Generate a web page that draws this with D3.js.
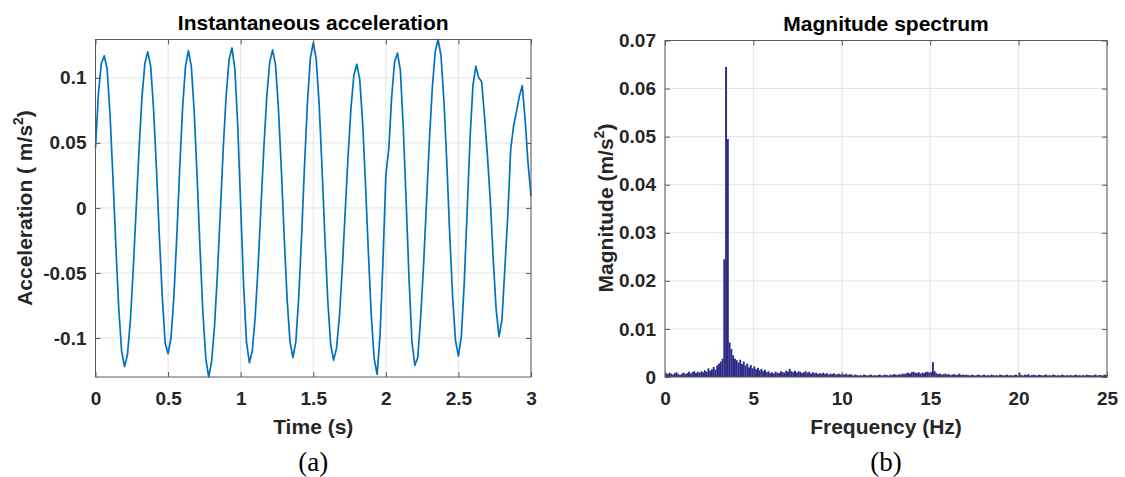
<!DOCTYPE html>
<html>
<head>
<meta charset="utf-8">
<script src="https://cdn.jsdelivr.net/npm/d3@7"></script>
<style>
  body { margin: 0; background: #fff; }
</style>
</head>
<body>
<svg id="fig" width="1125" height="477"></svg>
<script>
// ---- (a) acceleration record, sampled every 0.02 s (50 Hz) ----
const sampleInterval = 0.02;
const acceleration = [
  0.046, 0.088, 0.111, 0.117, 0.107, 0.072, 0.024, -0.029, -0.077, -0.110,
  -0.122, -0.113, -0.087, -0.047, -0.001, 0.045, 0.085, 0.111, 0.120, 0.109,
  0.076, 0.030, -0.022, -0.068, -0.104, -0.112, -0.100, -0.068, -0.022, 0.030,
  0.077, 0.109, 0.121, 0.109, 0.074, 0.024, -0.031, -0.081, -0.116, -0.130,
  -0.118, -0.091, -0.050, -0.003, 0.046, 0.086, 0.114, 0.123, 0.107, 0.063,
  0.002, -0.059, -0.103, -0.119, -0.110, -0.084, -0.045, 0.001, 0.047, 0.086,
  0.112, 0.1215, 0.110, 0.077, 0.030, -0.023, -0.070, -0.103, -0.115, -0.103,
  -0.069, -0.021, 0.033, 0.081, 0.115, 0.127, 0.115, 0.081, 0.032, -0.022,
  -0.071, -0.105, -0.117, -0.108, -0.084, -0.047, -0.003, 0.040, 0.077, 0.102,
  0.1105, 0.099, 0.066, 0.018, -0.035, -0.083, -0.116, -0.128, -0.098, -0.042,
  0.025, 0.045, 0.085, 0.112, 0.119, 0.106, 0.062, 0.005, -0.055, -0.103,
  -0.121, -0.115, -0.084, -0.044, 0.004, 0.052, 0.092, 0.120, 0.1295, 0.117,
  0.083, 0.035, -0.020, -0.068, -0.102, -0.114, -0.099, -0.058, -0.003, 0.053,
  0.094, 0.109, 0.100, 0.097, 0.070, 0.040, 0.005, -0.040, -0.078, -0.099,
  -0.086, -0.046, -0.006, 0.045, 0.063, 0.074, 0.086, 0.094, 0.067, 0.034,
  0.009
];
const timeTicks = [0, 0.5, 1, 1.5, 2, 2.5, 3];
const timeTickLabels = ["0", "0.5", "1", "1.5", "2", "2.5", "3"];
const accelTicks = [-0.1, -0.05, 0, 0.05, 0.1];
const accelTickLabels = ["-0.1", "-0.05", "0", "0.05", "0.1"];

// ---- (b) magnitude spectrum, one bin every 0.1 Hz from 0 to 25 Hz ----
const binWidth = 0.1;
const magnitude = [
  0.0008, 0.0006, 0.0009, 0.0007, 0.0005, 0.0008, 0.0010, 0.0006, 0.0004, 0.0007,
  0.0009, 0.0006, 0.0008, 0.0011, 0.0007, 0.0010, 0.0012, 0.0008, 0.0011, 0.0009,
  0.0012, 0.0010, 0.0014, 0.0011, 0.0018, 0.0013, 0.0016, 0.0021, 0.0015, 0.0024,
  0.0028, 0.0032, 0.0038, 0.0245, 0.0645, 0.0495, 0.0072, 0.0058, 0.0045, 0.0038,
  0.0035, 0.0030, 0.0036, 0.0027, 0.0032, 0.0024, 0.0028, 0.0020, 0.0025, 0.0018,
  0.0022, 0.0016, 0.0019, 0.0014, 0.0017, 0.0012, 0.0015, 0.0010, 0.0012, 0.0008,
  0.0010, 0.0007, 0.0011, 0.0009, 0.0008, 0.0012, 0.0010, 0.0009, 0.0013, 0.0011,
  0.0017, 0.0012, 0.0010, 0.0013, 0.0009, 0.0012, 0.0011, 0.0008, 0.0010, 0.0012,
  0.0009, 0.0011, 0.0007, 0.0010, 0.0008, 0.0009, 0.0006, 0.0008, 0.0007, 0.0009,
  0.0006, 0.0008, 0.0005, 0.0007, 0.0006, 0.0008, 0.0005, 0.0006, 0.0007, 0.0005,
  0.0006, 0.0005, 0.0007, 0.0004, 0.0006, 0.0005, 0.0003, 0.0005, 0.0004, 0.0003,
  0.0004, 0.0003, 0.0005, 0.0004, 0.0003, 0.0004, 0.0005, 0.0003, 0.0004, 0.0003,
  0.0004, 0.0005, 0.0003, 0.0004, 0.0005, 0.0004, 0.0003, 0.0005, 0.0004, 0.0006,
  0.0005, 0.0004, 0.0006, 0.0005, 0.0007, 0.0006, 0.0008, 0.0009, 0.0007, 0.0010,
  0.0011, 0.0009, 0.0008, 0.0010, 0.0007, 0.0009, 0.0008, 0.0010, 0.0011, 0.0009,
  0.0010, 0.0031, 0.0012, 0.0008, 0.0006, 0.0007, 0.0005, 0.0006, 0.0007, 0.0005,
  0.0006, 0.0004, 0.0005, 0.0006, 0.0004, 0.0005, 0.0007, 0.0004, 0.0005, 0.0004,
  0.0005, 0.0004, 0.0003, 0.0005, 0.0004, 0.0003, 0.0004, 0.0005, 0.0003, 0.0004,
  0.0005, 0.0003, 0.0004, 0.0003, 0.0005, 0.0004, 0.0003, 0.0004, 0.0003, 0.0005,
  0.0004, 0.0003, 0.0004, 0.0005, 0.0003, 0.0004, 0.0003, 0.0004, 0.0005, 0.0003,
  0.0008, 0.0004, 0.0003, 0.0005, 0.0004, 0.0006, 0.0003, 0.0004, 0.0005, 0.0004,
  0.0003, 0.0005, 0.0004, 0.0003, 0.0004, 0.0005, 0.0003, 0.0004, 0.0003, 0.0005,
  0.0004, 0.0003, 0.0004, 0.0003, 0.0005, 0.0004, 0.0003, 0.0004, 0.0003, 0.0004,
  0.0003, 0.0004, 0.0005, 0.0003, 0.0004, 0.0003, 0.0004, 0.0003, 0.0005, 0.0004,
  0.0004, 0.0003, 0.0004, 0.0005, 0.0003, 0.0004, 0.0004, 0.0003, 0.0005, 0.0004
];
const freqTicks = [0, 5, 10, 15, 20, 25];
const freqTickLabels = ["0", "5", "10", "15", "20", "25"];
const magTicks = [0, 0.01, 0.02, 0.03, 0.04, 0.05, 0.06, 0.07];
const magTickLabels = ["0", "0.01", "0.02", "0.03", "0.04", "0.05", "0.06", "0.07"];

// ---- styling ----
const sansFont = '"Liberation Sans", Arial, Helvetica, sans-serif';
const serifFont = '"Liberation Serif", "DejaVu Serif", serif';
const tickFont = 19, labelFont = 21;
const axisColor = "#5a5a5a", textColor = "#262626", gridColor = "#e4e4e4";
const tickLen = 5;

const svg = d3.select("#fig");

// Draws the grid now and returns a function that draws ticks on all four
// sides, the box and the tick labels on top of the data.
function drawFrame(g, x, y, xt, xtl, yt, ytl) {
  const [x0, x1] = x.range();
  const [y1, y0] = y.range();
  const grid = g.append("g");
  grid.selectAll("line.gx").data(xt).join("line").attr("class", "gx")
    .attr("x1", d => x(d)).attr("x2", d => x(d)).attr("y1", y0).attr("y2", y1)
    .attr("stroke", gridColor).attr("stroke-width", 1);
  grid.selectAll("line.gy").data(yt).join("line").attr("class", "gy")
    .attr("x1", x0).attr("x2", x1).attr("y1", d => y(d)).attr("y2", d => y(d))
    .attr("stroke", gridColor).attr("stroke-width", 1);
  return function overlay() {
    const top = g.append("g");
    const bottomAxis = d3.axisBottom(x).tickValues(xt)
      .tickFormat((d, i) => xtl[i]).tickSizeInner(-tickLen).tickSizeOuter(0).tickPadding(15);
    const topAxis = d3.axisTop(x).tickValues(xt).tickFormat("")
      .tickSizeInner(-tickLen).tickSizeOuter(0);
    const leftAxis = d3.axisLeft(y).tickValues(yt)
      .tickFormat((d, i) => ytl[i]).tickSizeInner(-tickLen).tickSizeOuter(0).tickPadding(9);
    const rightAxis = d3.axisRight(y).tickValues(yt).tickFormat("")
      .tickSizeInner(-tickLen).tickSizeOuter(0);
    const axes = [
      [bottomAxis, `translate(0,${y1})`],
      [topAxis, `translate(0,${y0})`],
      [leftAxis, `translate(${x0},0)`],
      [rightAxis, `translate(${x1},0)`]
    ];
    axes.forEach(([ax, tr]) => {
      const a = top.append("g").attr("transform", tr).call(ax);
      a.select(".domain").remove();
      a.selectAll(".tick line").attr("stroke", axisColor);
      a.selectAll(".tick text").attr("fill", textColor)
        .style("font-size", tickFont + "px").style("font-weight", "bold")
        .style("font-family", sansFont);
    });
    top.append("rect").attr("x", x0).attr("y", y0)
      .attr("width", x1 - x0).attr("height", y1 - y0)
      .attr("fill", "none").attr("stroke", axisColor).attr("stroke-width", 1);
  };
}

function addTitles(g, x, y, title, xlabel, ylabelMain, ylabelX, ylabelY) {
  const [x0, x1] = x.range();
  const [y1, y0] = y.range();
  const cx = (x0 + x1) / 2;
  const bold = sel => sel.style("font-family", sansFont)
    .style("font-size", labelFont + "px").style("font-weight", "bold");
  g.append("text").attr("x", cx).attr("y", y0 - 10).attr("text-anchor", "middle")
    .attr("fill", "#000").call(bold).text(title);
  g.append("text").attr("x", cx).attr("y", y1 + 57).attr("text-anchor", "middle")
    .attr("fill", textColor).call(bold).text(xlabel);
  const yl = g.append("text")
    .attr("transform", `translate(${ylabelX},${ylabelY}) rotate(-90)`)
    .attr("text-anchor", "middle").attr("fill", textColor).call(bold);
  yl.append("tspan").text(ylabelMain);
  yl.append("tspan").style("font-size", "14px").attr("dy", -9).text("2");
  yl.append("tspan").attr("dy", 9).text(")");
}

function addCaption(g, cx, label) {
  g.append("text").attr("x", cx).attr("y", 471).attr("text-anchor", "middle")
    .style("font-family", serifFont).style("font-size", "27px")
    .attr("fill", "#000").text(label);
}

// ---------- panel (a): instantaneous acceleration ----------
{
  const g = svg.append("g");
  const times = acceleration.map((_, i) => i * sampleInterval);
  const x = d3.scaleLinear().domain([0, 3]).range([95.5, 531]);
  const y = d3.scaleLinear().domain(d3.extent(acceleration)).range([377, 39.5]);
  const overlay = drawFrame(g, x, y, timeTicks, timeTickLabels, accelTicks, accelTickLabels);
  const line = d3.line().x((d, i) => x(times[i])).y(d => y(d));
  g.append("path").datum(acceleration).attr("d", line)
    .attr("fill", "none").attr("stroke", "#0072BD").attr("stroke-width", 1.7)
    .attr("stroke-linejoin", "round");
  overlay();
  addTitles(g, x, y, "Instantaneous acceleration", "Time (s)", "Acceleration ( m/s", 32, 208);
  addCaption(g, (95.5 + 531) / 2, "(a)");
}

// ---------- panel (b): magnitude spectrum ----------
{
  const g = svg.append("g");
  const x = d3.scaleLinear().domain([0, 25]).range([665, 1107]);
  const y = d3.scaleLinear().domain([0, 0.07]).range([377, 40.5]);
  const overlay = drawFrame(g, x, y, freqTicks, freqTickLabels, magTicks, magTickLabels);
  g.append("g").selectAll("rect").data(magnitude).join("rect")
    .attr("x", (d, i) => x(i * binWidth))
    .attr("width", (d, i) => x((i + 1) * binWidth) - x(i * binWidth) + 0.15)
    .attr("y", d => y(d))
    .attr("height", d => y(0) - y(d))
    .attr("fill", "#2e2a86");
  overlay();
  addTitles(g, x, y, "Magnitude spectrum", "Frequency (Hz)", "Magnitude (m/s", 613, 208);
  addCaption(g, (665 + 1107) / 2, "(b)");
}
</script>
</body>
</html>
